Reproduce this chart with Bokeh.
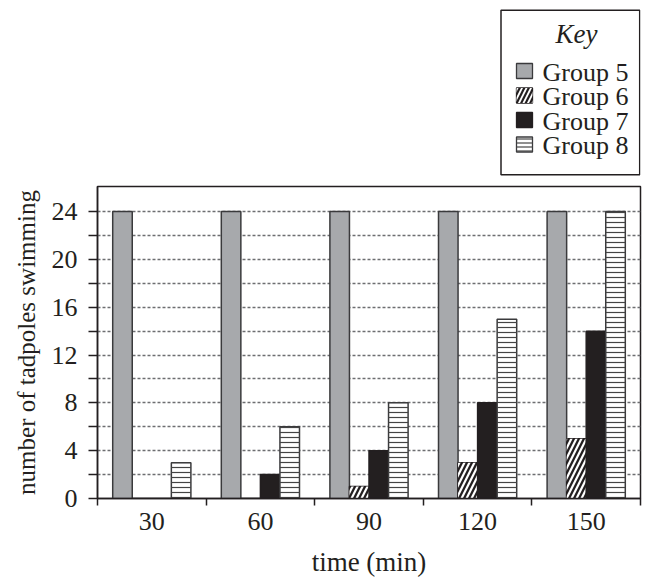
from bokeh.plotting import figure
from bokeh.layouts import column
from bokeh.models import Range1d, FixedTicker, ColumnDataSource
from bokeh.core.properties import value
from bokeh.embed import file_html
from bokeh.resources import INLINE

# ---- data ----
times = ["30", "60", "90", "120", "150"]
group5 = [24, 24, 24, 24, 24]
group6 = [0, 0, 1, 3, 5]
group7 = [0, 2, 4, 8, 14]
group8 = [3, 6, 8, 15, 24]
series_names = ["Group 5", "Group 6", "Group 7", "Group 8"]
y_ticks = [0, 4, 8, 12, 16, 20, 24]
y_minor = [2, 6, 10, 14, 18, 22]
x_label = "time (min)"
y_label = "number of tadpoles swimming"
legend_title = "Key"

FONT = "Liberation Serif"
INK = "#231f20"

centers = [i + 0.5 for i in range(len(times))]
bw = 0.18
offsets = [-1.5 * bw, -0.5 * bw, 0.5 * bw, 1.5 * bw]

TOP_H = 184
FRAME_L, FRAME_R = 97, 640

p = figure(width=652, height=579 - TOP_H, output_backend="svg", toolbar_location=None,
           x_range=Range1d(0, len(times)), y_range=Range1d(0, 26.1),
           min_border_left=FRAME_L, min_border_right=652 - FRAME_R, min_border_top=2,
           min_border_bottom=81)
p.background_fill_color = "white"
p.border_fill_color = "white"
p.outline_line_color = INK
p.outline_line_width = 1.5

# grid
p.xgrid.visible = False
p.ygrid.grid_line_color = "#6d6e71"
p.ygrid.grid_line_dash = "3 2"
p.ygrid.grid_line_width = 1.3
p.ygrid.minor_grid_line_color = "#6d6e71"
p.ygrid.minor_grid_line_dash = "3 2"
p.ygrid.minor_grid_line_width = 1.3

series = [group5, group6, group7, group8]
base_styles = [
    dict(fill_color="#a7a9ac", line_color="#3a3a3c"),
    dict(fill_color=INK, line_color=INK),
    dict(fill_color=INK, line_color=INK),
    dict(fill_color="white", line_color="#3a3a3c"),
]
hatch_styles = [
    None,
    dict(hatch_pattern="/", hatch_color="white", hatch_scale=10, hatch_weight=2.2),
    None,
    dict(hatch_pattern="-", hatch_color="#444444", hatch_scale=5, hatch_weight=1.2),
]
for k_, vals in enumerate(series):
    src = ColumnDataSource(dict(x=[c + offsets[k_] for c in centers], top=vals))
    p.vbar(x="x", top="top", bottom=0, width=bw, source=src, line_width=1.5,
           **base_styles[k_])
    if hatch_styles[k_]:
        p.vbar(x="x", top="top", bottom=0, width=bw, source=src,
               fill_color=None, line_color=None, **hatch_styles[k_])

# x axis
xa = p.xaxis[0]
xa.ticker = FixedTicker(ticks=centers, minor_ticks=list(range(len(times) + 1)))
xa.major_label_overrides = {c: t for c, t in zip(centers, times)}
xa.major_tick_line_color = None
xa.major_tick_out = 0
xa.major_tick_in = 0
xa.minor_tick_out = 7
xa.minor_tick_in = 0
xa.minor_tick_line_color = INK
xa.minor_tick_line_width = 1.5
xa.axis_line_color = INK
xa.axis_line_width = 1.5
xa.major_label_standoff = 7
xa.major_label_text_font = FONT
xa.major_label_text_font_size = "26px"
xa.major_label_text_line_height = 1.0
xa.major_label_text_color = INK
xa.axis_label = x_label
xa.axis_label_text_font = FONT
xa.axis_label_text_font_size = "27px"
xa.axis_label_text_line_height = 1.0
xa.axis_label_text_font_style = "normal"
xa.axis_label_text_color = INK
xa.axis_label_standoff = 14

# y axis
ya = p.yaxis[0]
ya.ticker = FixedTicker(ticks=y_ticks, minor_ticks=y_minor)
ya.major_tick_out = 9
ya.major_tick_in = 0
ya.minor_tick_out = 9
ya.minor_tick_in = 0
ya.major_tick_line_color = INK
ya.minor_tick_line_color = INK
ya.major_tick_line_width = 1.5
ya.minor_tick_line_width = 1.5
ya.axis_line_color = INK
ya.axis_line_width = 1.5
ya.major_label_standoff = 11
ya.major_label_text_font = FONT
ya.major_label_text_font_size = "26px"
ya.major_label_text_color = INK
ya.axis_label = y_label
ya.axis_label_text_font = FONT
ya.axis_label_text_font_size = "25px"
ya.axis_label_text_font_style = "normal"
ya.axis_label_text_color = INK
ya.axis_label_standoff = 9

# ---- key: a strip above the plot, its ranges mapped to page pixels ----
k = figure(width=652, height=TOP_H, output_backend="svg", toolbar_location=None,
           x_range=Range1d(FRAME_L, FRAME_R), y_range=Range1d(TOP_H, 0),
           min_border_left=FRAME_L, min_border_right=652 - FRAME_R,
           min_border_top=0, min_border_bottom=0,
           x_axis_type=None, y_axis_type=None)
k.grid.visible = False
k.outline_line_color = None
k.background_fill_color = "white"
k.border_fill_color = "white"

box = dict(left=500.5, right=639.2, top=9.7, bottom=174.3)
k.quad(left=[box["left"]], right=[box["right"]], top=[box["top"]], bottom=[box["bottom"]],
       fill_color="white", line_color=INK, line_width=1.5)
k.text(x=[576], y=[33], text=[legend_title], text_font=value(FONT),
       text_font_size="27px", text_font_style="italic", text_color=INK,
       text_align="center", text_baseline="alphabetic")

row_pitch = 24.5
sw_left, sw_right = 516, 532
sw_top0, sw_h = 63, 15
text_x, base0 = 542, 71.5
for i, name in enumerate(series_names):
    t = sw_top0 + i * row_pitch
    sq = ColumnDataSource(dict(left=[sw_left], right=[sw_right], top=[t], bottom=[t + sw_h]))
    k.quad(left="left", right="right", top="top", bottom="bottom", source=sq,
           line_width=1.3, **base_styles[i])
    if hatch_styles[i]:
        hs = dict(hatch_styles[i])
        if hs["hatch_pattern"] == "/":
            hs["hatch_scale"] = 9
            hs["hatch_weight"] = 1.8
        else:
            hs["hatch_scale"] = 4
        k.quad(left="left", right="right", top="top", bottom="bottom", source=sq,
               fill_color=None, line_color=None, **hs)
    k.text(x=[text_x], y=[base0 + i * row_pitch], text=[name], text_font=value(FONT),
           text_font_size="26px", text_color=INK, text_align="left",
           text_baseline="alphabetic")

layout = column(k, p, spacing=0)
open("out.html", "w").write(file_html(layout, INLINE))
